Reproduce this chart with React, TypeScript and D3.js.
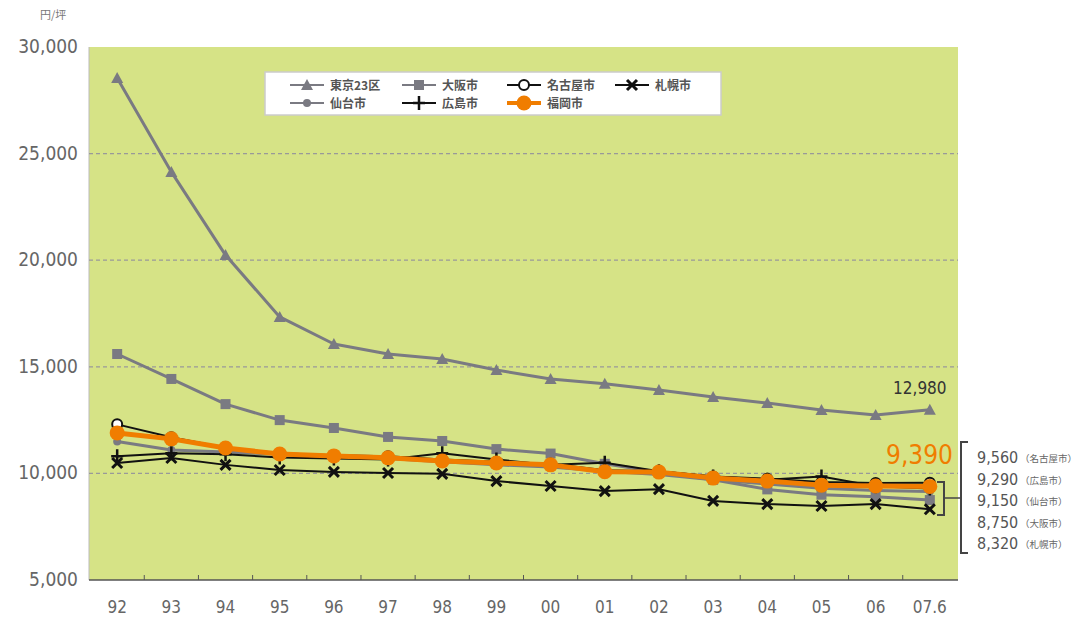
import * as d3 from 'd3';

const years = ['92', '93', '94', '95', '96', '97', '98', '99', '00', '01', '02', '03', '04', '05', '06', '07.6'];
const yTicks = [5000, 10000, 15000, 20000, 25000, 30000];

const tokyo = [28550, 24140, 20240, 17340, 16070, 15600, 15370, 14850, 14430, 14200, 13910, 13580, 13300, 12970, 12740, 12980];
const osaka = [15600, 14430, 13250, 12500, 12130, 11710, 11520, 11140, 10930, 10450, 10050, 9700, 9250, 9000, 8900, 8750];
const nagoya = [12300, 11700, 11200, 10950, 10850, 10800, 10650, 10550, 10450, 10150, 10100, 9850, 9750, 9600, 9550, 9560];
const sapporo = [10490, 10720, 10400, 10160, 10070, 10020, 9980, 9640, 9410, 9170, 9260, 8710, 8560, 8470, 8560, 8320];
const sendai = [11500, 11100, 11000, 10900, 10800, 10700, 10550, 10400, 10300, 10100, 9950, 9700, 9500, 9300, 9200, 9150];
const hiroshima = [10800, 10950, 10900, 10750, 10700, 10650, 10950, 10650, 10400, 10500, 10100, 9850, 9700, 9850, 9400, 9290];
const fukuoka = [11900, 11620, 11190, 10910, 10820, 10730, 10580, 10490, 10400, 10080, 10060, 9780, 9640, 9450, 9410, 9390];

const endLabels = ['9,560', '9,290', '9,150', '8,750', '8,320'];
const endCities = ['（名古屋市）', '（広島市）', '（仙台市）', '（大阪市）', '（札幌市）'];

type Marker = 'tri' | 'sq' | 'open' | 'x' | 'dot' | 'plus' | 'big';

interface Series {
  name: string;
  values: number[];
  color: string;
  width: number;
  marker: Marker;
}

const GRAY = '#7a7a82';
const ORANGE = '#f07d00';

const series: Series[] = [
  { name: '東京23区', values: tokyo, color: GRAY, width: 3, marker: 'tri' },
  { name: '大阪市', values: osaka, color: GRAY, width: 3, marker: 'sq' },
  { name: '仙台市', values: sendai, color: GRAY, width: 3, marker: 'dot' },
  { name: '広島市', values: hiroshima, color: '#111', width: 2, marker: 'plus' },
  { name: '名古屋市', values: nagoya, color: '#111', width: 2, marker: 'open' },
  { name: '札幌市', values: sapporo, color: '#111', width: 2, marker: 'x' },
  { name: '福岡市', values: fukuoka, color: ORANGE, width: 5, marker: 'big' },
];

const legendOrder = ['東京23区', '大阪市', '名古屋市', '札幌市', '仙台市', '広島市', '福岡市'];

function MarkerShape({ type, x, y, color }: { type: Marker; x: number; y: number; color: string }) {
  switch (type) {
    case 'tri':
      return <path d={`M${x},${y - 6}L${x + 6},${y + 5}L${x - 6},${y + 5}Z`} fill={color} />;
    case 'sq':
      return <rect x={x - 5} y={y - 5} width={10} height={10} fill={color} />;
    case 'dot':
      return <circle cx={x} cy={y} r={4} fill={color} />;
    case 'open':
      return <circle cx={x} cy={y} r={5} fill="#fff" stroke={color} strokeWidth={2} />;
    case 'plus':
      return <path d={`M${x - 6},${y}H${x + 6}M${x},${y - 7}V${y + 7}`} stroke={color} strokeWidth={2.5} />;
    case 'x':
      return <path d={`M${x - 5},${y - 5}L${x + 5},${y + 5}M${x + 5},${y - 5}L${x - 5},${y + 5}`} stroke={color} strokeWidth={3} />;
    case 'big':
      return <circle cx={x} cy={y} r={7.5} fill={color} />;
  }
}

export default function App() {
  const W = 1088;
  const H = 623;
  const left = 89, right = 958, top = 47, bottom = 580;

  const x = d3.scaleBand<string>().domain(years).range([left, right]).paddingInner(0).paddingOuter(0.02);
  const cx = (yr: string) => (x(yr) ?? 0) + x.bandwidth() / 2;
  const y = d3.scaleLinear().domain([5000, 30000]).range([bottom, top]);

  const line = d3
    .line<number>()
    .x((_, i) => cx(years[i]))
    .y((d) => y(d));

  const fmt = d3.format(',');
  const font = "'Liberation Sans Narrow', 'Arial Narrow', 'DejaVu Sans Condensed', sans-serif";
  const jp = "'Noto Sans CJK JP', sans-serif";

  const legendCols = [290, 402, 507, 615];
  const legendRows = [85, 103];
  const lastX = cx(years[years.length - 1]);

  return (
    <svg width={W} height={H} style={{ position: 'absolute', left: 0, top: 0, background: '#fff' }}>
      <rect x={left} y={top} width={right - left} height={bottom - top} fill="#d6e386" />
      <line x1={left} x2={left} y1={top} y2={bottom} stroke="#bbb" strokeWidth={1} />

      {yTicks.filter((t) => t > 5000 && t < 30000).map((t) => (
        <line key={t} x1={left} x2={right} y1={y(t)} y2={y(t)} stroke="#999" strokeWidth={1.2} strokeDasharray="4,3" />
      ))}

      {yTicks.map((t) => (
        <text key={t} x={78} y={y(t) + 6} textAnchor="end" fontFamily={font} fontSize={19} fill="#666">
          {fmt(t)}
        </text>
      ))}
      <text x={40} y={19} fontFamily={jp} fontSize={11} fill="#777">円/坪</text>

      <line x1={left} x2={right} y1={bottom} y2={bottom} stroke="#555" strokeWidth={1.5} />
      {years.slice(1).map((yr) => (
        <line key={yr} x1={x(yr)!} x2={x(yr)!} y1={bottom} y2={bottom - 5} stroke="#555" strokeWidth={1} />
      ))}
      {years.map((yr) => (
        <text key={yr} x={cx(yr)} y={613} textAnchor="middle" fontFamily={font} fontSize={17} fill="#666">
          {yr}
        </text>
      ))}

      {series.map((s) => (
        <g key={s.name}>
          <path d={line(s.values) ?? ''} fill="none" stroke={s.color} strokeWidth={s.width} strokeLinejoin="round" />
          {s.values.map((v, i) => (
            <MarkerShape key={i} type={s.marker} x={cx(years[i])} y={y(v)} color={s.color} />
          ))}
        </g>
      ))}

      <rect x={265} y={72} width={456} height={43} fill="#fff" stroke="#ccc" strokeWidth={1.5} />
      {legendOrder.map((name, i) => {
        const s = series.find((d) => d.name === name)!;
        const lx = legendCols[i % 4];
        const ly = legendRows[Math.floor(i / 4)];
        return (
          <g key={name}>
            <line x1={lx} x2={lx + 34} y1={ly} y2={ly} stroke={s.color} strokeWidth={s.width === 5 ? 4 : 2} />
            <MarkerShape type={s.marker} x={lx + 17} y={ly} color={s.color} />
            <text x={lx + 40} y={ly + 5} fontFamily={jp} fontSize={12} fontWeight={700} fill="#555">
              {name}
            </text>
          </g>
        );
      })}

      <text x={lastX - 10} y={394} textAnchor="middle" fontFamily={font} fontSize={17} fill="#333">
        {fmt(tokyo[tokyo.length - 1])}
      </text>
      <text x={953} y={464} textAnchor="end" fontFamily={font} fontSize={26} fill={ORANGE}>
        {fmt(fukuoka[fukuoka.length - 1])}
      </text>

      <path d={`M937,482H944V515H937`} fill="none" stroke="#444" strokeWidth={2} />
      <line x1={944} x2={961} y1={498} y2={498} stroke="#444" strokeWidth={1.5} />
      <path d={`M968,442H961V553H968`} fill="none" stroke="#444" strokeWidth={2} />
      {endLabels.map((lab, i) => (
        <g key={lab}>
          <text x={977} y={463 + i * 21.5} fontFamily={font} fontSize={16} fill="#555">{lab}</text>
          <text x={1020} y={462 + i * 21.5} fontFamily={jp} fontSize={9.5} fill="#666">{endCities[i]}</text>
        </g>
      ))}
    </svg>
  );
}
